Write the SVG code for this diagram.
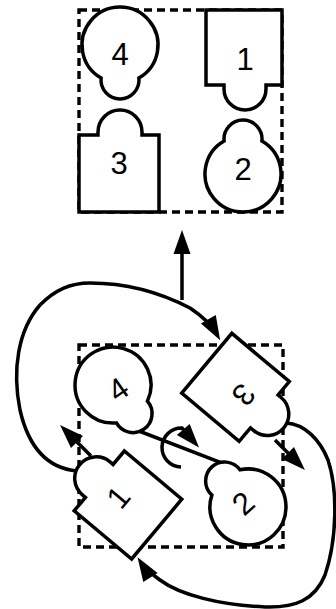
<svg xmlns="http://www.w3.org/2000/svg" xmlns:xlink="http://www.w3.org/1999/xlink" width="336" height="609" viewBox="0 0 336 609">
<style>
.box{fill:none;stroke:#000;stroke-width:3.4;stroke-dasharray:8 5}
.node{fill:#fff;stroke:#000;stroke-width:3.5;stroke-linejoin:miter}
.edge{fill:none;stroke:#000;stroke-width:3.5}
.lbl{font-family:"Liberation Sans",Arial,sans-serif;font-size:31px;fill:#000;text-anchor:middle}
</style>
<defs>
<path id="key" d="M-18.9,33 A38,38 0 1 1 18.9,33 A19,19 0 1 1 -18.9,33 Z"/>
<path id="tab" d="M-39,-37.5 H39 V37.5 H21.5 V41.5 A21.5,21.5 0 0 1 -21.5,41.5 V37.5 H-39 Z"/>
<marker id="ah" markerUnits="userSpaceOnUse" markerWidth="24" markerHeight="17" refX="17" refY="8.5" orient="auto" overflow="visible">
<path d="M0,0 L24,8.5 L0,17 Z" fill="#000"/>
</marker>
</defs>
<rect x="0" y="0" width="336" height="609" fill="#fff"/>
<g id="frames">
<rect class="box" x="79" y="10" width="203" height="202"/>
<rect class="box" x="79" y="345" width="204" height="202"/>
</g>
<g id="connectors">
<path class="edge" d="M182,300 L182,237" marker-end="url(#ah)"/>
<path class="edge" d="M77,471 C45,468 28,445 20,410 C12,370 18,330 40,305 C55,290 70,283 90,283 C130,283 165,295 190,308 C202,316 211,324 216.7,334.1" marker-end="url(#ah)"/>
<path class="edge" d="M286,423 C305,424 320,440 328,460 C338,490 337,540 325,575 C315,600 295,608 265,607 C220,605 180,595 160,580 C152,574 145,569 141.3,563.2" marker-end="url(#ah)"/>
<path class="edge" d="M113,421 L241,470.4"/>
<path class="edge" d="M181,467 A19.5,19.5 0 0 1 182,428 L194.4,442.3" marker-end="url(#ah)"/>
<path class="edge" d="M91,456 L65,430" marker-end="url(#ah)"/>
<path class="edge" d="M275,440 L300,465" marker-end="url(#ah)"/>
</g>
<g id="top-4">
<use xlink:href="#key" class="node" transform="translate(120,45)"/>
<text class="lbl" x="120" y="64.5">4</text>
</g>
<g id="top-1">
<path class="node" d="M206,10 H282 V85 H266 V89 A21,21 0 0 1 224,89 V85 H206 Z"/>
<text class="lbl" x="245" y="69.5">1</text>
</g>
<g id="top-3">
<path class="node" d="M79,212 V135 H98 V132 A22,22 0 0 1 142,132 V135 H159 V212 Z"/>
<text class="lbl" x="119" y="174">3</text>
</g>
<g id="top-2">
<use xlink:href="#key" class="node" transform="translate(243,174) rotate(180)"/>
<text class="lbl" x="243" y="180">2</text>
</g>
<g id="bottom-4">
<use xlink:href="#key" class="node" transform="translate(113,385) rotate(-35)"/>
<text class="lbl" transform="translate(118,389) rotate(-35)" x="0" y="11">4</text>
</g>
<g id="bottom-3">
<use xlink:href="#tab" class="node" transform="translate(235.5,387.3) rotate(-50)"/>
<text class="lbl" transform="translate(244,395) rotate(130)" x="0" y="11">3</text>
</g>
<g id="bottom-1">
<use xlink:href="#tab" class="node" transform="translate(128,505) rotate(130)"/>
<text class="lbl" transform="translate(118,497) rotate(-50)" x="0" y="11">1</text>
</g>
<g id="bottom-2">
<use xlink:href="#key" class="node" transform="translate(248,507) rotate(138)"/>
<text class="lbl" transform="translate(243,503) rotate(-42)" x="0" y="11">2</text>
</g>
</svg>
